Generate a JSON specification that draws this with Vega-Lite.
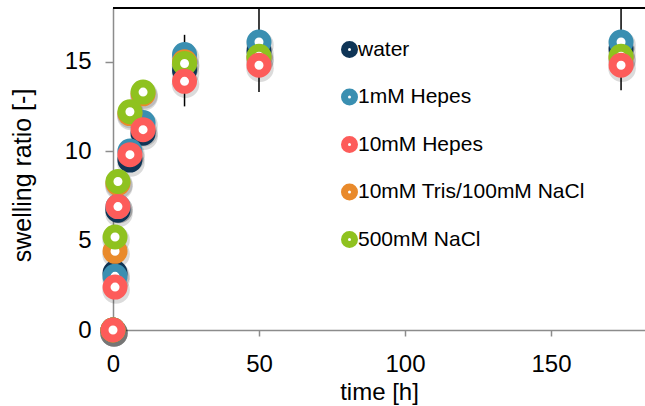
{
  "$schema": "https://vega.github.io/schema/vega-lite/v6.json",
  "autosize": {"type": "none"},
  "padding": {"left": 113, "top": 8, "right": 0, "bottom": 76},
  "width": 532,
  "height": 322,
  "background": "white",
  "config": {
    "view": {"stroke": null},
    "font": "Liberation Sans",
    "axis": {
      "labelFont": "Liberation Sans",
      "titleFont": "Liberation Sans",
      "labelColor": "#000",
      "titleColor": "#000",
      "titleFontWeight": "normal",
      "labelFlush": false,
      "grid": false
    },
    "legend": {
      "labelFont": "Liberation Sans"
    }
  },
  "data": {
    "values": [
      {"medium": "water", "t": 0, "ratio": 0},
      {"medium": "water", "t": 0.7, "ratio": 3.2},
      {"medium": "water", "t": 1.7, "ratio": 6.7},
      {"medium": "water", "t": 5.8, "ratio": 9.5},
      {"medium": "water", "t": 10.3, "ratio": 11.0},
      {"medium": "water", "t": 24.5, "ratio": 14.5, "lo": 12.5, "hi": 16.5},
      {"medium": "water", "t": 50, "ratio": 15.6, "lo": 13.3, "hi": 18.0},
      {"medium": "water", "t": 174, "ratio": 15.7, "lo": 13.4, "hi": 18.0},
      {"medium": "1mM Hepes", "t": 0, "ratio": 0},
      {"medium": "1mM Hepes", "t": 0.7, "ratio": 3.0},
      {"medium": "1mM Hepes", "t": 1.7, "ratio": 6.9},
      {"medium": "1mM Hepes", "t": 5.8, "ratio": 10.0},
      {"medium": "1mM Hepes", "t": 10.3, "ratio": 11.6},
      {"medium": "1mM Hepes", "t": 24.5, "ratio": 15.4},
      {"medium": "1mM Hepes", "t": 50, "ratio": 16.1},
      {"medium": "1mM Hepes", "t": 174, "ratio": 16.1},
      {"medium": "10mM Tris/100mM NaCl", "t": 0, "ratio": 0},
      {"medium": "10mM Tris/100mM NaCl", "t": 0.7, "ratio": 4.4},
      {"medium": "10mM Tris/100mM NaCl", "t": 1.7, "ratio": 8.2},
      {"medium": "10mM Tris/100mM NaCl", "t": 5.8, "ratio": 12.1},
      {"medium": "10mM Tris/100mM NaCl", "t": 10.3, "ratio": 13.2},
      {"medium": "10mM Tris/100mM NaCl", "t": 24.5, "ratio": 15.0},
      {"medium": "10mM Tris/100mM NaCl", "t": 50, "ratio": 15.2},
      {"medium": "10mM Tris/100mM NaCl", "t": 174, "ratio": 15.2},
      {"medium": "500mM NaCl", "t": 0, "ratio": 0},
      {"medium": "500mM NaCl", "t": 0.7, "ratio": 5.2},
      {"medium": "500mM NaCl", "t": 1.7, "ratio": 8.3},
      {"medium": "500mM NaCl", "t": 5.8, "ratio": 12.2},
      {"medium": "500mM NaCl", "t": 10.3, "ratio": 13.3},
      {"medium": "500mM NaCl", "t": 24.5, "ratio": 14.9},
      {"medium": "500mM NaCl", "t": 50, "ratio": 15.3},
      {"medium": "500mM NaCl", "t": 174, "ratio": 15.3},
      {"medium": "10mM Hepes", "t": 0, "ratio": 0},
      {"medium": "10mM Hepes", "t": 0.7, "ratio": 2.4},
      {"medium": "10mM Hepes", "t": 1.7, "ratio": 6.9},
      {"medium": "10mM Hepes", "t": 5.8, "ratio": 9.8},
      {"medium": "10mM Hepes", "t": 10.3, "ratio": 11.2},
      {"medium": "10mM Hepes", "t": 24.5, "ratio": 13.9},
      {"medium": "10mM Hepes", "t": 50, "ratio": 14.8},
      {"medium": "10mM Hepes", "t": 174, "ratio": 14.8}
    ]
  },
  "encoding": {
    "x": {
      "field": "t",
      "type": "quantitative",
      "scale": {"domain": [0, 182.2], "nice": false, "zero": false},
      "axis": {
        "values": [0, 50, 100, 150],
        "title": "time [h]",
        "titleFontSize": 24,
        "titlePadding": 4,
        "labelFontSize": 24,
        "labelPadding": 16,
        "tickSize": 6,
        "tickColor": "#8c8c8c",
        "tickWidth": 1.5,
        "domainColor": "#8c8c8c",
        "domainWidth": 1.5
      }
    },
    "y": {
      "field": "ratio",
      "type": "quantitative",
      "scale": {"domain": [0, 18], "nice": false},
      "axis": {
        "values": [0, 5, 10, 15],
        "title": "swelling ratio [-]",
        "titleFontSize": 25,
        "titlePadding": 29,
        "titleY": 167,
        "labelFontSize": 24,
        "labelPadding": 14,
        "tickSize": 8,
        "tickColor": "#8c8c8c",
        "tickWidth": 1.5,
        "domainColor": "#8c8c8c",
        "domainWidth": 1.5
      }
    }
  },
  "layer": [
    {
      "mark": {"type": "rule", "color": "#000", "strokeWidth": 1.5},
      "encoding": {
        "y": {"field": "lo", "type": "quantitative"},
        "y2": {"field": "hi"}
      },
      "transform": [{"filter": "isValid(datum.lo)"}]
    },
    {
      "mark": {"type": "point", "shape": "circle", "filled": true, "color": "#000", "opacity": 0.14, "size": 760, "xOffset": 1, "yOffset": 3}
    },
    {
      "mark": {"type": "point", "shape": "circle", "filled": false, "fill": "white", "strokeWidth": 8, "size": 289, "opacity": 1},
      "encoding": {
        "color": {
          "field": "medium",
          "type": "nominal",
          "scale": {
            "domain": ["water", "1mM Hepes", "10mM Hepes", "10mM Tris/100mM NaCl", "500mM NaCl"],
            "range": ["#0f3556", "#3a8fb1", "#fd5c5a", "#e98a2b", "#8fc21f"]
          },
          "legend": {
            "title": null,
            "orient": "none",
            "legendX": 226,
            "legendY": 31,
            "padding": 0,
            "labelFontSize": 21,
            "labelColor": "#000",
            "labelOffset": -2,
            "labelLimit": 400,
            "rowPadding": 8.5,
            "symbolType": "circle",
            "symbolSize": 100,
            "symbolStrokeWidth": 7,
            "symbolFillColor": "white",
            "symbolOpacity": 1
          }
        }
      }
    },
    {
      "mark": {"type": "rule", "color": "#000", "strokeWidth": 1.5},
      "encoding": {
        "x": {"value": 0},
        "x2": {"value": 532},
        "y": {"value": 0}
      }
    }
  ]
}
